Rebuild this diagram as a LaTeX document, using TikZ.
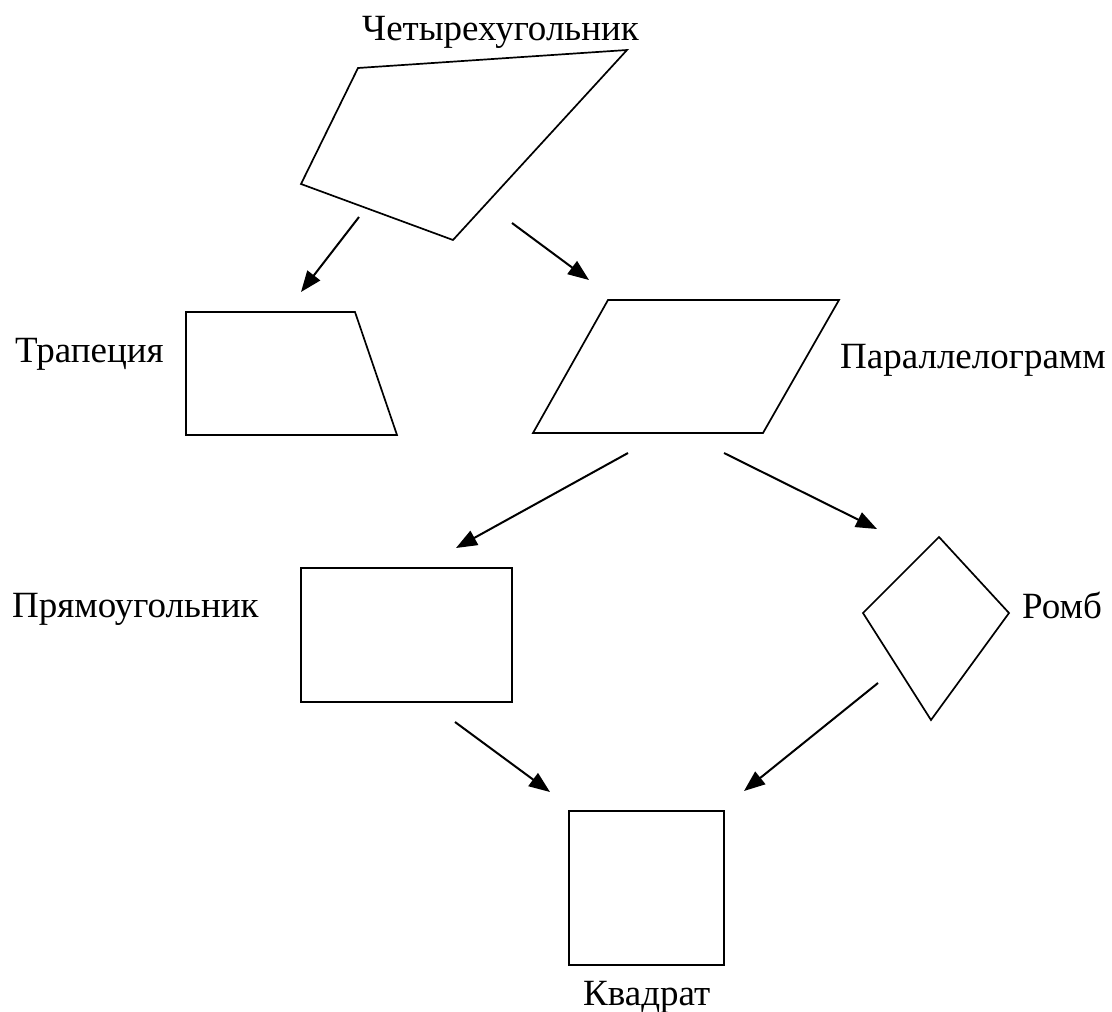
\documentclass[tikz,border=0pt]{standalone}
\usepackage{fontspec}
\setmainfont{Liberation Serif}
\usepackage{tikz}
\usetikzlibrary{arrows.meta}

\begin{document}
\begin{tikzpicture}[
      x=1pt, y=-1pt,
      figure/.style={draw=black, line width=1.7pt, line join=miter},
      tag/.style={font=\fontsize{37}{44}\selectfont, inner sep=0pt},
      arrow/.style={-{Triangle[length=21pt, width=16pt]}, line width=2pt, color=black},
    ]
    \useasboundingbox (0,0) rectangle (1112,1012);

    \draw[figure] (358,68) -- (627,50) -- (453,240) -- (301,184) -- cycle;
    \draw[figure] (186,312) -- (355,312) -- (397,435) -- (186,435) -- cycle;
    \draw[figure] (608,300) -- (839,300) -- (763,433) -- (533,433) -- cycle;
    \draw[figure] (301,568) rectangle (512,702);
    \draw[figure] (939,537) -- (1009,613) -- (931,720) -- (863,613) -- cycle;
    \draw[figure] (569,811) rectangle (724,965);

    \node[tag, anchor=base west] (quad) at (362,40) {Четырехугольник};
    \node[tag, anchor=base west] (trap) at (15,362) {Трапеция};
    \node[tag, anchor=base west] (par) at (840,368) {Параллелограмм};
    \node[tag, anchor=base west] (rect) at (12,617) {Прямоугольник};
    \node[tag, anchor=base west] (romb) at (1022,618) {Ромб};
    \node[tag, anchor=base west] (sq) at (583,1005) {Квадрат};

    \coordinate (quad-l) at (359,217);  \coordinate (trap-in) at (301,292);
    \coordinate (quad-r) at (512,223);  \coordinate (par-in) at (589,280);
    \coordinate (par-l) at (628,453);   \coordinate (rect-in) at (456,548);
    \coordinate (par-r) at (724,453);   \coordinate (romb-in) at (877,529);
    \coordinate (rect-out) at (455,722); \coordinate (sq-l) at (550,792);
    \coordinate (romb-out) at (878,683); \coordinate (sq-r) at (744,791);

    \draw[arrow] (quad-l) -- (trap-in);
    \draw[arrow] (quad-r) -- (par-in);
    \draw[arrow] (par-l) -- (rect-in);
    \draw[arrow] (par-r) -- (romb-in);
    \draw[arrow] (rect-out) -- (sq-l);
    \draw[arrow] (romb-out) -- (sq-r);
  \end{tikzpicture}
\end{document}
